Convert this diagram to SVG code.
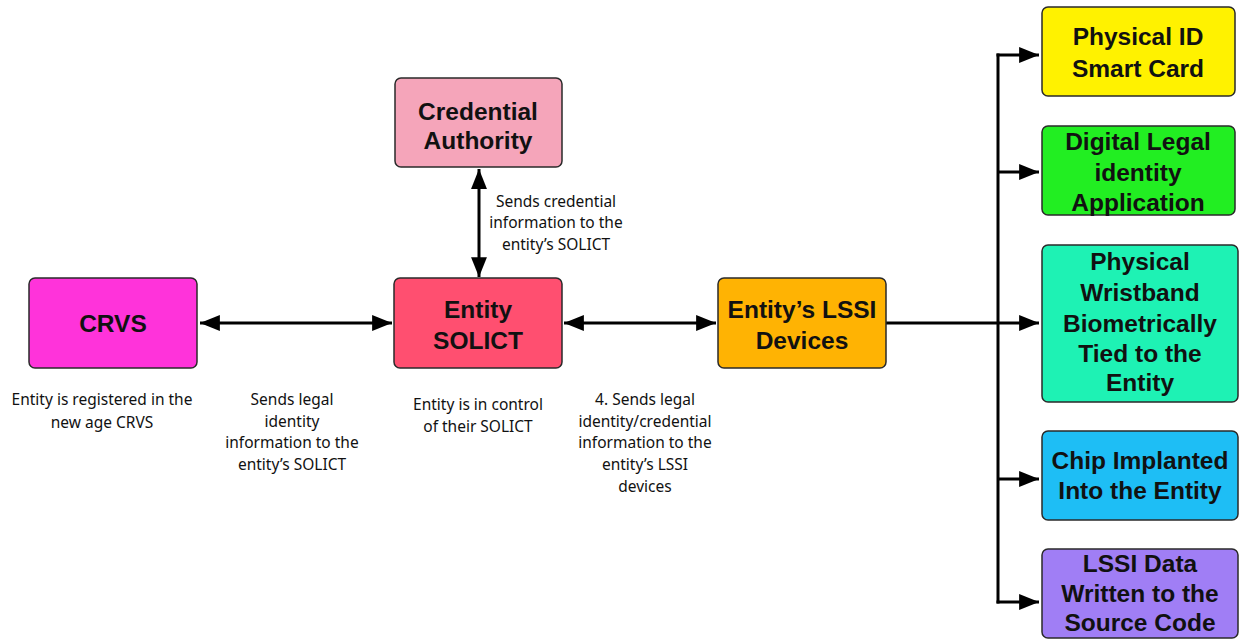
<svg xmlns="http://www.w3.org/2000/svg" width="1239" height="639" viewBox="0 0 1239 639">
  <defs>
    <marker id="arrow" viewBox="0 0 20 16" refX="20" refY="8" markerWidth="6.7" markerHeight="5.3" orient="auto-start-reverse" markerUnits="strokeWidth">
      <path d="M0,0 L20,8 L0,16 z" fill="#000"/>
    </marker>
    <style>
      .box { stroke: #2a2a2a; stroke-width: 1.5; }
      .title { font-family: "Liberation Sans", Arial, sans-serif; font-weight: bold; font-size: 24.5px; fill: #111; text-anchor: middle; }
      .note { font-family: "Noto Sans", "DejaVu Sans", sans-serif; font-size: 15.5px; fill: #111; text-anchor: middle; }
      .link { stroke: #000; stroke-width: 3; fill: none; }
    </style>
  </defs>
  <rect width="1239" height="639" fill="#fff"/>

  <!-- connectors -->
  <g id="connectors">
    <line class="link" x1="200" y1="323" x2="392" y2="323" marker-start="url(#arrow)" marker-end="url(#arrow)"/>
    <line class="link" x1="479" y1="169" x2="479" y2="277" marker-start="url(#arrow)" marker-end="url(#arrow)"/>
    <line class="link" x1="564" y1="323" x2="716" y2="323" marker-start="url(#arrow)" marker-end="url(#arrow)"/>
    <line class="link" x1="886" y1="323" x2="1039" y2="323" marker-end="url(#arrow)"/>
    <line class="link" x1="998" y1="53.5" x2="998" y2="603.5"/>
    <line class="link" x1="996.5" y1="55" x2="1039" y2="55" marker-end="url(#arrow)"/>
    <line class="link" x1="998" y1="172" x2="1039" y2="172" marker-end="url(#arrow)"/>
    <line class="link" x1="998" y1="479" x2="1039" y2="479" marker-end="url(#arrow)"/>
    <line class="link" x1="996.5" y1="602" x2="1039" y2="602" marker-end="url(#arrow)"/>
  </g>

  <!-- labels on the connectors and under the nodes -->
  <g id="notes">
    <text class="note" x="102" y="405">Entity is registered in the</text>
    <text class="note" x="102" y="428">new age CRVS</text>

    <text class="note" x="292" y="405">Sends legal</text>
    <text class="note" x="292" y="427">identity</text>
    <text class="note" x="292" y="448">information to the</text>
    <text class="note" x="292" y="470">entity’s SOLICT</text>

    <text class="note" x="556" y="207">Sends credential</text>
    <text class="note" x="556" y="228">information to the</text>
    <text class="note" x="556" y="250">entity’s SOLICT</text>

    <text class="note" x="478" y="410">Entity is in control</text>
    <text class="note" x="478" y="432">of their SOLICT</text>

    <text class="note" x="645" y="405">4. Sends legal</text>
    <text class="note" x="645" y="427">identity/credential</text>
    <text class="note" x="645" y="448">information to the</text>
    <text class="note" x="645" y="470">entity’s LSSI</text>
    <text class="note" x="645" y="492">devices</text>
  </g>

  <g id="crvs">
    <rect class="box" x="29" y="278" width="168" height="90" rx="6" fill="#FF33DA"/>
    <text class="title" x="113" y="332">CRVS</text>
  </g>

  <g id="credential-authority">
    <rect class="box" x="395" y="78" width="167" height="89" rx="6" fill="#F5A5BA"/>
    <text class="title" x="478" y="120">Credential</text>
    <text class="title" x="478" y="149">Authority</text>
  </g>

  <g id="entity-solict">
    <rect class="box" x="394" y="278" width="168" height="90" rx="6" fill="#FF4F70"/>
    <text class="title" x="478" y="318">Entity</text>
    <text class="title" x="478" y="349">SOLICT</text>
  </g>

  <g id="lssi-devices">
    <rect class="box" x="718" y="278" width="168" height="90" rx="6" fill="#FFB303"/>
    <text class="title" x="802" y="318">Entity’s LSSI</text>
    <text class="title" x="802" y="349">Devices</text>
  </g>

  <g id="physical-id">
    <rect class="box" x="1042" y="7" width="193" height="89" rx="6" fill="#FFF200"/>
    <text class="title" x="1138" y="45">Physical ID</text>
    <text class="title" x="1138" y="77">Smart Card</text>
  </g>

  <g id="digital-legal-identity">
    <rect class="box" x="1042" y="126" width="193" height="89" rx="6" fill="#22EE22"/>
    <text class="title" x="1138" y="150">Digital Legal</text>
    <text class="title" x="1138" y="181">identity</text>
    <text class="title" x="1138" y="211">Application</text>
  </g>

  <g id="wristband">
    <rect class="box" x="1042" y="245" width="196" height="157" rx="6" fill="#1EF2B4"/>
    <text class="title" x="1140" y="270">Physical</text>
    <text class="title" x="1140" y="301">Wristband</text>
    <text class="title" x="1140" y="332">Biometrically</text>
    <text class="title" x="1140" y="362">Tied to the</text>
    <text class="title" x="1140" y="391">Entity</text>
  </g>

  <g id="chip-implant">
    <rect class="box" x="1042" y="431" width="196" height="89" rx="6" fill="#1EBEF5"/>
    <text class="title" x="1140" y="469">Chip Implanted</text>
    <text class="title" x="1140" y="499">Into the Entity</text>
  </g>

  <g id="source-code">
    <rect class="box" x="1042" y="549" width="196" height="89" rx="6" fill="#A07EF5"/>
    <text class="title" x="1140" y="572">LSSI Data</text>
    <text class="title" x="1140" y="602">Written to the</text>
    <text class="title" x="1140" y="631">Source Code</text>
  </g>
</svg>
